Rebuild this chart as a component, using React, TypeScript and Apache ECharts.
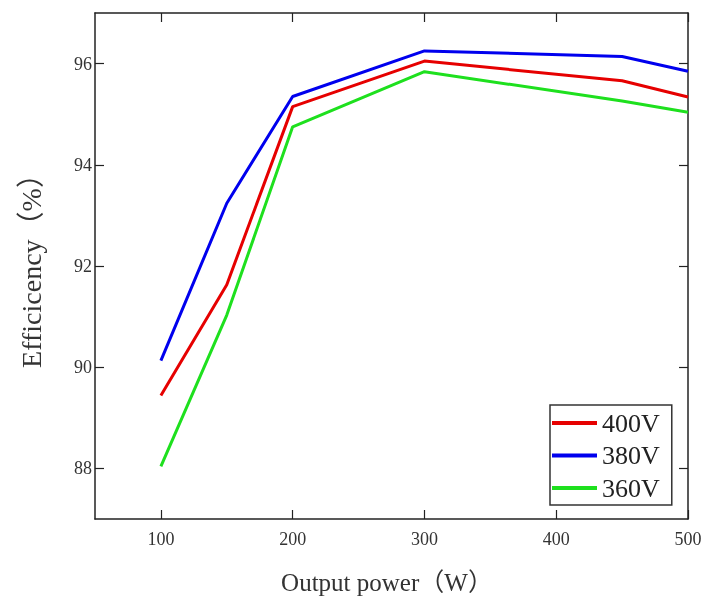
import React, { useEffect, useRef } from "react";
import * as echarts from "echarts";

const powers = [100, 150, 200, 300, 450, 500];
const eff400 = [89.44, 91.63, 95.15, 96.05, 95.66, 95.34];
const eff380 = [90.13, 93.24, 95.35, 96.25, 96.14, 95.85];
const eff360 = [88.04, 91.03, 94.75, 95.84, 95.26, 95.04];
const seriesNames = ["400V", "380V", "360V"];
const colors = ["#e60000", "#0000ee", "#1ee01e"];
const xTicks = [100, 200, 300, 400, 500];
const yTicks = [88, 90, 92, 94, 96];

const FONT = "'Liberation Serif', 'Times New Roman', 'Noto Sans CJK SC', serif";

export default function App() {
  const ref = useRef<HTMLDivElement>(null);
  useEffect(() => {
    if (!ref.current) return;
    const chart = echarts.init(ref.current, null, { renderer: "svg" });
    const allData = [eff400, eff380, eff360];
    const axisLine = { show: true, lineStyle: { color: "#222", width: 1.5 } };
    const tick = { show: true, inside: true, length: 9, lineStyle: { color: "#222", width: 1.2 } };
    chart.setOption({
      animation: false,
      grid: { left: 95, right: 20, top: 13, bottom: 80 },
      xAxis: [
        {
          type: "value", min: 50, max: 500, position: "bottom",
          axisLine, axisTick: { ...tick, customValues: xTicks },
          splitLine: { show: false },
          axisLabel: {
            margin: 11, fontFamily: FONT, fontSize: 18, color: "#333",
            customValues: xTicks,
          },
        },
        {
          type: "value", min: 50, max: 500, position: "top",
          axisLine, axisTick: { ...tick, customValues: xTicks }, splitLine: { show: false }, axisLabel: { show: false },
        },
      ],
      yAxis: [
        {
          type: "value", min: 87, max: 97, position: "left",
          axisLine, axisTick: { ...tick, customValues: yTicks }, splitLine: { show: false },
          axisLabel: {
            margin: 3, fontFamily: FONT, fontSize: 18, color: "#333",
            customValues: yTicks,
          },
        },
        {
          type: "value", min: 87, max: 97, position: "right",
          axisLine, axisTick: { ...tick, customValues: yTicks }, splitLine: { show: false }, axisLabel: { show: false },
        },
      ],
      legend: {
        orient: "vertical",
        left: 550, top: 405,
        data: seriesNames,
        icon: "rect",
        itemWidth: 45, itemHeight: 4, itemGap: 6.5,
        padding: [5, 12, 4, 2],
        borderColor: "#333", borderWidth: 1.5,
        backgroundColor: "#fff",
        textStyle: { fontFamily: FONT, fontSize: 26, lineHeight: 26, color: "#222" },
      },
      series: seriesNames.map((name, i) => ({
        name, type: "line", symbol: "none", color: colors[i],
        lineStyle: { width: 3, color: colors[i] },
        data: powers.map((p, j) => [p, allData[i][j]]),
      })),
      graphic: [
        {
          type: "text", x: 387, y: 582,
          style: { text: "Output power（W）", font: `25px ${FONT}`, fill: "#333", align: "center", verticalAlign: "middle" },
        },
        {
          type: "text", x: 31, y: 264, rotation: Math.PI / 2,
          style: { text: "Efficicency（%）", font: `28px ${FONT}`, fill: "#333", align: "center", verticalAlign: "middle" },
        },
      ],
    });
    return () => chart.dispose();
  }, []);
  return <div ref={ref} style={{ position: "fixed", left: 0, top: 0, width: 708, height: 599 }} />;
}
